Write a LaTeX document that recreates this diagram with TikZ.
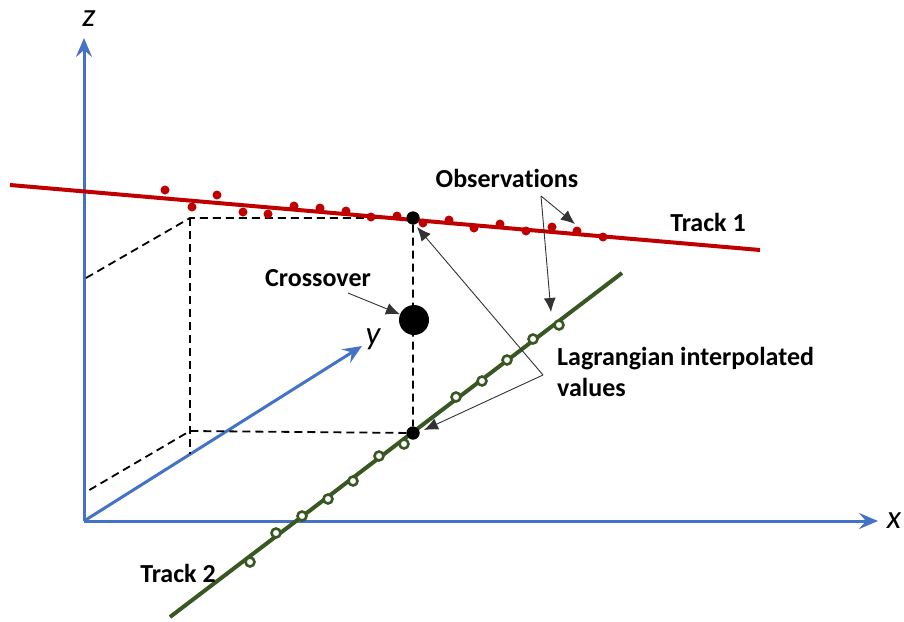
\documentclass[tikz,border=0pt]{standalone}
\usepackage{fontspec}
\setmainfont{Carlito}[Ligatures=NoCommon]
\usetikzlibrary{arrows.meta,positioning}
\definecolor{axisblue}{RGB}{68,114,196}
\definecolor{track1}{RGB}{192,0,0}
\definecolor{track2}{RGB}{56,87,35}

\begin{document}
\begin{tikzpicture}[x=1pt,y=-1pt]
\tikzstyle{axis}=[draw=axisblue, line width=3pt, -{Stealth[length=19pt,width=16pt,inset=7pt]}]
\tikzstyle{axlabel}=[font=\itshape\fontsize{33}{36}\selectfont]
\tikzstyle{label}=[font=\bfseries\fontsize{26}{31}\selectfont, inner sep=0pt]
\tikzstyle{obs1}=[circle, fill=track1, inner sep=0pt, minimum size=9pt]
\tikzstyle{obs2}=[circle, draw=track2, fill=white, line width=2.6pt, inner sep=0pt, minimum size=9pt]
\tikzstyle{interp}=[circle, fill=black, inner sep=0pt, minimum size=13pt]
\tikzstyle{guide}=[dashed, line width=1.8pt, dash pattern=on 8pt off 5pt]
\tikzstyle{connect}=[-{Latex[length=14pt,width=12pt]}, line width=0.9pt, draw=black!80]
\useasboundingbox (0,0) rectangle (904,621);

% axes
  \coordinate (o) at (84,521);
  \coordinate (zend) at (84,38);
  \coordinate (xend) at (878,521);
  \coordinate (yend) at (362,346);
  \draw[axis] (o) -- (zend);
  \draw[axis] (o) -- (xend);
  \draw[axis] (o) -- (yend);
  \node[axlabel] (zl) at (89,19) {z};
  \node[axlabel] (xl) at (894,521) {x};
  \node[axlabel] (yl) at (373,339) {y};

% projection box
  \node[interp] (p1) at (413,218) {};
  \node[interp] (p2) at (413,433) {};
  \coordinate (a1) at (190,218);
  \coordinate (a2) at (190,431);
  \coordinate (a3) at (190,454);
  \coordinate (z1) at (86,278);
  \coordinate (z2) at (86,492);
  \draw[guide] (z1) -- (a1) -- (p1) -- (p2) -- (a2) -- (z2);
  \draw[guide] (a1) -- (a3);

% tracks
  \coordinate (t1a) at (10,185);
  \coordinate (t1b) at (760,250);
  \draw[track1, line width=4pt] (t1a) -- (t1b);
  \coordinate (t2a) at (170,617);
  \coordinate (t2b) at (622,273);
  \draw[track2, line width=4pt] (t2a) -- (t2b);

  \foreach \x/\y [count=\i] in {165/190,192/207,217/195,243/212,268/214,294/206,320/208,346/211,371/217,397/216,423/223,449/220,474/228,500/224,526/231,552/227,577/231,603/237}
    \node[obs1] (r\i) at (\x,\y) {};
  \foreach \x/\y [count=\i] in {250/562,276/533,302/516,328/499,353/481,379/456,404/444,456/397,482/381,507/360,533/339,559/325}
    \node[obs2] (g\i) at (\x,\y) {};

  \node[interp] (p1b) at (p1) {};
  \node[interp] (p2b) at (p2) {};
  \node[circle, fill=black, inner sep=0pt, minimum size=30pt] (c) at (414,320) {};

% labels
  \node[label] (obs) at (507,178) {Observations};
  \node[label] (tr1) at (708,222) {Track 1};
  \node[label] (tr2) at (178,573) {Track 2};
  \node[label] (cross) at (318,278) {Crossover};
  \node[label, anchor=north west, align=left] (lag) at (557,347) {Lagrangian interpolated\\values};

  \coordinate (ofork) at (541,196);
  \coordinate (lfork) at (543,375);
  \draw[connect] (ofork) -- (575,224);
  \draw[connect] (ofork) -- (551,312);
  \draw[connect] (lfork) -- (417,227);
  \draw[connect] (lfork) -- (424,430);
  \draw[connect] (348,293) -- (c);
\end{tikzpicture}
\end{document}
